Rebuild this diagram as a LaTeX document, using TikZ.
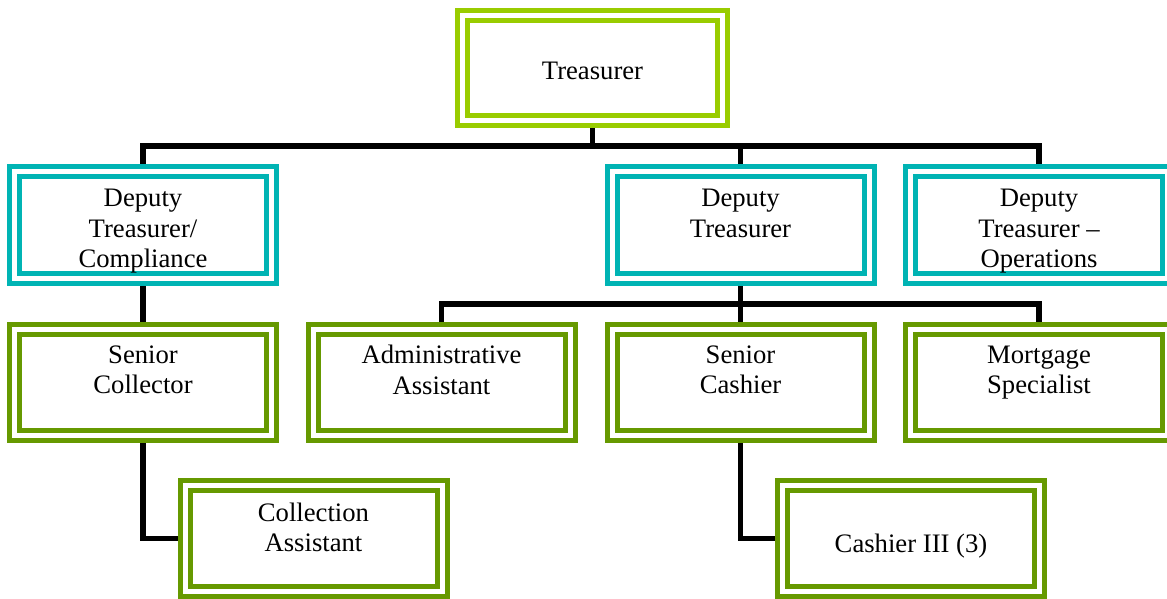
\documentclass[tikz,border=0pt]{standalone}
\usepackage{fontspec}
\setmainfont{Liberation Serif}
\usepackage{tikz}
\usepackage{xcolor}
\usetikzlibrary{
  positioning, backgrounds,
}
\definecolor{headgreen}{RGB}{153,204,0}
\definecolor{deputyteal}{RGB}{0,180,180}
\definecolor{staffgreen}{RGB}{102,153,0}
\tikzset{
  rolebox/.style={rectangle,draw,line width=3.75pt,double=white,double distance=3.75pt,
    fill=white,minimum width=192.75pt,minimum height=79.5pt,inner sep=0pt,align=center,
    font=\fontsize{20}{23}\selectfont},
  headnode/.style={rolebox,draw=headgreen,minimum width=195pt,minimum height=78.75pt,
    text height=17.5pt,text depth=0pt},
  depnode/.style={rolebox,draw=deputyteal,text height=68pt,text depth=4pt},
  staffnode/.style={rolebox,draw=staffgreen},
  liftnode/.style={staffnode,text depth=19pt},
  orgline/.style={line width=4pt,black},
}

\begin{document}
\begin{tikzpicture}[x=0.75pt,y=-0.75pt]
  \useasboundingbox (0,0) rectangle (1167,599);
  \clip (0,0) rectangle (1167,599);
  % top of the tree
  \node[headnode] (treas) at (592.5,68) {Treasurer};
  % deputies
  \node[depnode] (dcomp)  at (143,225)   {Deputy\\Treasurer/\\Compliance};
  \node[depnode] (dtreas) at (740.5,225) {Deputy\\Treasurer\\\mbox{}};
  \node[depnode] (dops)   at (1039,225)  {Deputy\\Treasurer --\\Operations};
  % staff
  \node[liftnode] (scoll) at (143,382.5)   {Senior\\Collector};
  \node[liftnode] (admin) at (441.5,382.5) {Administrative\\Assistant};
  \node[liftnode] (scash) at (740.5,382.5) {Senior\\Cashier};
  \node[liftnode] (mortg) at (1039,382.5)  {Mortgage\\Specialist};
  \node[liftnode,text depth=17pt] (colla) at (313.5,538.5) {Collection\\Assistant};
  \node[staffnode,text height=25pt,text depth=3.5pt] (cash3) at (911,538.5) {Cashier III (3)};
  \begin{scope}[on background layer]
    \coordinate (topbus) at (592.5,146);
    \coordinate (midbus) at (740.5,304);
    \draw[orgline] (treas) -- (topbus);
    \draw[orgline] (dcomp.north) |- (topbus) -| (dops.north);
    \draw[orgline] (dtreas.north) -- (dtreas.north |- topbus);
    \draw[orgline] (dtreas) -- (scash);
    \draw[orgline] (admin.north) |- (midbus) -| (mortg.north);
    \draw[orgline] (dcomp) -- (scoll);
    \draw[orgline] (scoll.south) |- (colla.west);
    \draw[orgline] (scash.south) |- (cash3.west);
  \end{scope}
\end{tikzpicture}
\end{document}
